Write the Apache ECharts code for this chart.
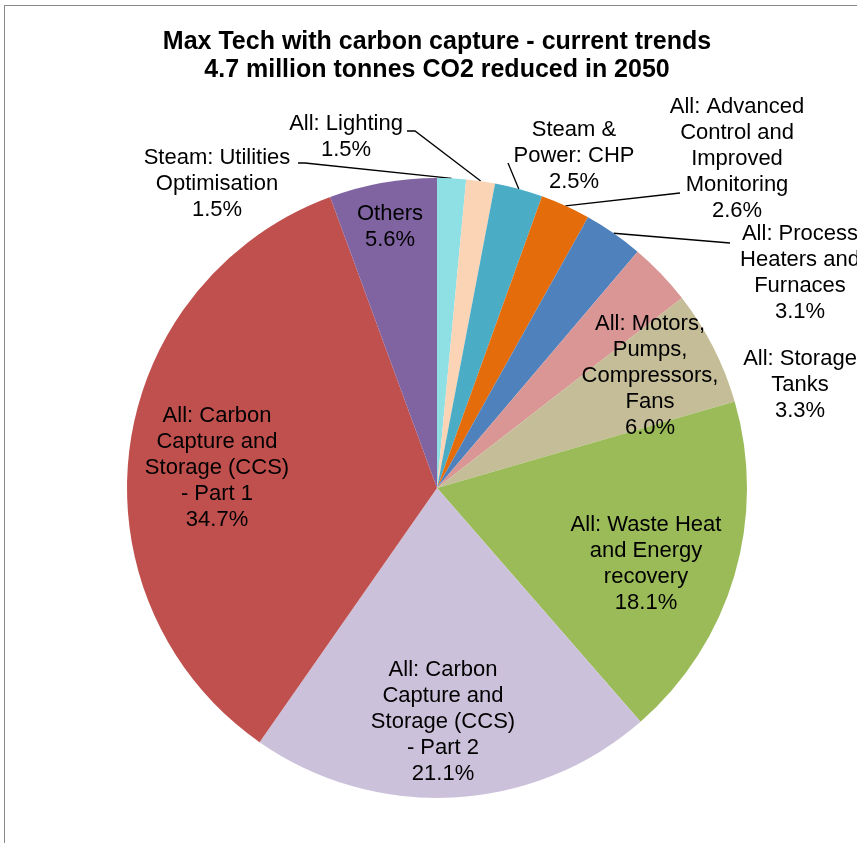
<!DOCTYPE html>
<html><head><meta charset="utf-8">
<script src="https://cdn.jsdelivr.net/npm/echarts@6/dist/echarts.min.js"></script>
<style>
html,body{margin:0;padding:0;overflow:hidden;background:#fff;width:857px;height:843px}
#frame{position:absolute;left:4px;top:5px;width:900px;height:900px;border-left:1px solid #898989;border-top:1px solid #898989}
#chart{position:absolute;left:0;top:0;width:874px;height:843px}
</style></head>
<body><div id="frame"></div><div id="chart"></div>
<script>
const categories = [
  'Steam: Utilities\nOptimisation',
  'All: Lighting',
  'Steam &\nPower: CHP',
  'All: Advanced\nControl and\nImproved\nMonitoring',
  'All: Process\nHeaters and\nFurnaces',
  'All: Storage\nTanks',
  'All: Motors,\nPumps,\nCompressors,\nFans',
  'All: Waste Heat\nand Energy\nrecovery',
  'All: Carbon\nCapture and\nStorage (CCS)\n- Part 2',
  'All: Carbon\nCapture and\nStorage (CCS)\n- Part 1',
  'Others'
];
const values = [1.5, 1.5, 2.5, 2.6, 3.1, 3.3, 6.0, 18.1, 21.1, 34.7, 5.6];
const colors = ['#8EE0E5', '#FBD3B5', '#4BACC6', '#E46C0A', '#4F81BD', '#D99694', '#C4BD97', '#9BBB59', '#CCC1DA', '#C0504D', '#8064A2'];

// label layout (text block centres) and leader-line bend/end points
const labelCenters = [[217,184],[346,137],[574,156],[737,159],[800,273],[800,385],[650,376],[646,564],[443,722],[217,468],[390,227]];
const leaderPts = [[[305,163],[298,163]], [[415,131],[407,131]], [[508,163]], [[680,193]], [[730,243]], null, null, null, null, null, null];

const CX = 437, CY = 488, R = 310;
const total = values.reduce((a, b) => a + b, 0);
const midAngles = [];
let acc = 0;
values.forEach(v => { midAngles.push(2 * Math.PI * (acc + v / 2) / total); acc += v; });

const FONT = "'Liberation Sans', Arial, sans-serif";
const chart = echarts.init(document.getElementById('chart'), null, {renderer: 'canvas'});
chart.setOption({
  animation: false,
  backgroundColor: 'transparent',
  title: {
    text: 'Max Tech with carbon capture - current trends\n4.7 million tonnes CO2 reduced in 2050',
    left: 'center', top: 28, padding: 0,
    textStyle: {fontFamily: FONT, fontWeight: 'bold', fontSize: 25, lineHeight: 28, color: '#000'}
  },
  series: [{
    type: 'pie',
    center: [CX, CY],
    radius: R,
    startAngle: 90,
    clockwise: true,
    avoidLabelOverlap: false,
    emphasis: {disabled: true},
    itemStyle: {borderWidth: 0},
    label: {
      show: true,
      position: 'outside',
      fontFamily: FONT, fontSize: 22, lineHeight: 26, color: '#000',
      align: 'center',
      formatter: p => p.name + '\n' + p.value.toFixed(1) + '%'
    },
    labelLine: {show: true, lineStyle: {color: '#000', width: 1.3}},
    labelLayout: function (params) {
      const i = params.dataIndex;
      const c = labelCenters[i];
      const out = {x: c[0], y: c[1], align: 'center', verticalAlign: 'middle'};
      if (leaderPts[i]) {
        const a = midAngles[i];
        const edge = [CX + R * Math.sin(a), CY - R * Math.cos(a)];
        const pts = [edge].concat(leaderPts[i]);
        if (pts.length === 2) pts.push(pts[1]);
        out.labelLinePoints = pts;
      }
      return out;
    },
    data: categories.map((n, i) => ({
      name: n, value: values[i],
      itemStyle: {color: colors[i]},
      labelLine: {show: !!leaderPts[i]}
    }))
  }]
});
</script>
</body></html>
